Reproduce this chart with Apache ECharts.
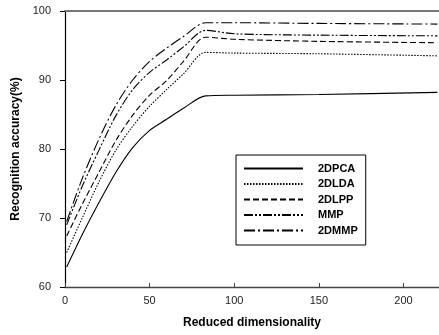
<!DOCTYPE html>
<html>
<head>
<meta charset="utf-8">
<script src="https://cdn.jsdelivr.net/npm/echarts@6/dist/echarts.min.js"></script>
<style>
  html, body { margin: 0; padding: 0; background: #fff; }
  #chart { width: 439px; height: 335px; }
</style>
</head>
<body>
<div id="chart"></div>
<script>
// reduced dimensions where accuracy is read
const dims = [1, 10, 20, 30, 40, 50, 60, 70, 83, 100, 150, 220]

const pca2d = [62.9, 67.5, 72.2, 76.6, 80.2, 82.7, 84.3, 85.9, 87.7, 87.8, 87.9, 88.2]
const lda2d = [65.0, 69.9, 75.2, 79.8, 83.3, 86.2, 88.6, 90.9, 94.0, 93.9, 93.8, 93.5]
const lpp2d = [67.4, 71.9, 76.6, 81.2, 84.9, 87.8, 89.9, 92.7, 96.2, 95.9, 95.6, 95.4]
const mmp = [69.0, 74.5, 79.8, 84.8, 88.6, 91.1, 92.9, 94.8, 97.2, 96.7, 96.5, 96.4]
const mmp2d = [69.5, 75.6, 81.4, 86.3, 90.0, 92.7, 94.6, 96.3, 98.3, 98.3, 98.2, 98.1]

const xTicks = [0, 50, 100, 150, 200]
const yTicks = [60, 70, 80, 90, 100]

const font = 'Liberation Sans, Arial, sans-serif'

const pairs = (vals) => dims.map((d, i) => [d, vals[i]])

const makeSeries = (name, vals, type) => ({
  name,
  type: 'line',
  data: pairs(vals),
  smooth: 0.3,
  symbol: 'none',
  lineStyle: { color: '#000', width: 1.1, type },
  itemStyle: { color: '#000' }
})

const chart = echarts.init(document.getElementById('chart'))

chart.setOption({
  animation: false,
  grid: { left: 65, top: 11, right: 0, bottom: 48 },
  legend: {
    orient: 'vertical',
    left: 236,
    top: 155,
    padding: [8, 8, 9, 7],
    itemGap: 4.5,
    itemWidth: 59,
    itemHeight: 10,
    borderColor: '#000',
    borderWidth: 1,
    itemStyle: { opacity: 0 },
    textStyle: { fontFamily: font, fontSize: 11, fontWeight: 'bold', color: '#000', padding: [0, 0, 0, 10] },
    data: ['2DPCA', '2DLDA', '2DLPP', 'MMP', '2DMMP']
  },
  xAxis: [{
    type: 'value',
    min: 0,
    max: 221,
    interval: 50,
    name: 'Reduced dimensionality',
    nameLocation: 'middle',
    nameGap: 30,
    nameTextStyle: { fontFamily: font, fontSize: 12, fontWeight: 'bold', color: '#000' },
    axisLine: { lineStyle: { color: '#444', width: 1.3 } },
    axisTick: { inside: true, length: 4, lineStyle: { color: '#444' } },
    axisLabel: {
      margin: 8,
      fontFamily: font,
      fontSize: 11,
      color: '#222',
      showMaxLabel: false,
      formatter: (v) => xTicks.includes(v) ? String(v) : ''
    },
    splitLine: { show: false }
  }, {
    type: 'value',
    position: 'top',
    min: 0,
    max: 221,
    axisLine: { show: true, lineStyle: { color: '#777', width: 2 } },
    axisTick: { show: false },
    axisLabel: { show: false },
    splitLine: { show: false }
  }],
  yAxis: {
    type: 'value',
    min: 60,
    max: 100,
    interval: 10,
    name: 'Recognition accuracy(%)',
    nameLocation: 'middle',
    nameGap: 39,
    nameTextStyle: { fontFamily: font, fontSize: 12, fontWeight: 'bold', color: '#000' },
    axisLine: { show: true, lineStyle: { color: '#000', width: 1.2 } },
    axisTick: { show: true, length: 5, lineStyle: { color: '#000' } },
    axisLabel: {
      margin: 14,
      fontFamily: font,
      fontSize: 11,
      color: '#222',
      formatter: (v) => yTicks.includes(v) ? String(v) : ''
    },
    splitLine: { show: false }
  },
  series: [
    makeSeries('2DPCA', pca2d, 'solid'),
    makeSeries('2DLDA', lda2d, [1.5, 1.5]),
    makeSeries('2DLPP', lpp2d, [6, 3]),
    makeSeries('MMP', mmp, [9, 2, 2, 2, 2, 2]),
    makeSeries('2DMMP', mmp2d, [11, 3, 2, 3])
  ]
})
</script>
</body>
</html>
